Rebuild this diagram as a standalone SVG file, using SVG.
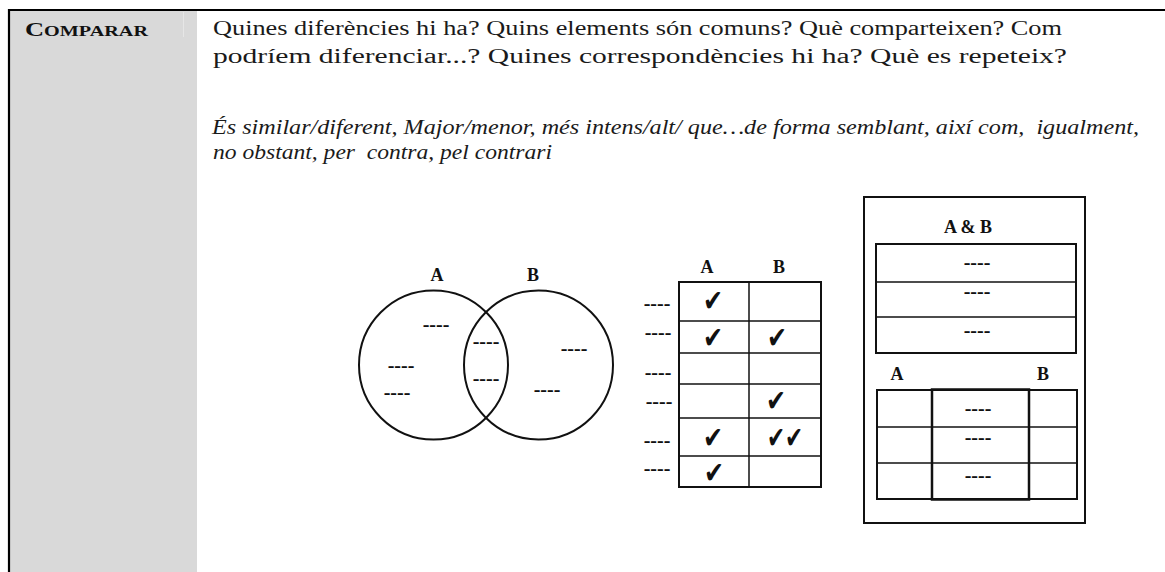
<svg xmlns="http://www.w3.org/2000/svg" width="1165" height="572" viewBox="0 0 1165 572">
<style>
.t{font-family:"Liberation Serif","Times New Roman",serif;font-size:20.5px;fill:#1a1a1a;white-space:pre}
.i{font-style:italic}
.lb{font-family:"Liberation Serif","Times New Roman",serif;font-size:18px;font-weight:bold;fill:#111;text-anchor:middle}
.d{font-family:"Liberation Serif","Times New Roman",serif;font-size:20px;font-weight:bold;fill:#111;text-anchor:middle}
.ck{font-family:"DejaVu Sans",sans-serif;font-size:30px;fill:#111;text-anchor:middle}
.s{fill:none;stroke:#111;stroke-width:2}
.s1{fill:none;stroke:#111;stroke-width:1.5}
</style>
<rect width="1165" height="572" fill="#fff"/>
<g id="header">
<rect x="10" y="11" width="187" height="561" fill="#d9d9d9"/>
<line x1="183.5" y1="12" x2="183.5" y2="37" stroke="#e6e6e6" stroke-width="1"/>
<line x1="8" y1="10" x2="1165" y2="10" stroke="#000" stroke-width="2"/>
<line x1="9" y1="9" x2="9" y2="572" stroke="#000" stroke-width="2.2"/>
<text x="25" y="36" font-family="Liberation Serif, serif" font-weight="bold" fill="#111" textLength="123" lengthAdjust="spacingAndGlyphs"><tspan font-size="19">C</tspan><tspan font-size="14.5">OMPARAR</tspan></text>
</g>
<g id="questions">
<text class="t" x="213" y="35" textLength="849" lengthAdjust="spacingAndGlyphs">Quines diferències hi ha? Quins elements són comuns? Què comparteixen? Com</text>
<text class="t" x="213" y="63" textLength="854" lengthAdjust="spacingAndGlyphs">podríem diferenciar...? Quines correspondències hi ha? Què es repeteix?</text>
<text class="t i" x="212" y="134" textLength="927" lengthAdjust="spacingAndGlyphs">És similar/diferent, Major/menor, més intens/alt/ que…de forma semblant, així com,  igualment,</text>
<text class="t i" x="213" y="159" textLength="339" lengthAdjust="spacingAndGlyphs">no obstant, per  contra, pel contrari</text>
</g>
<g id="venn">
<circle class="s" cx="433.5" cy="365" r="74.5"/>
<circle class="s" cx="538.5" cy="365" r="74.5"/>
<text class="lb" x="437" y="281">A</text>
<text class="lb" x="533" y="281">B</text>
<text class="d" x="436" y="331">----</text>
<text class="d" x="401" y="372">----</text>
<text class="d" x="397" y="399">----</text>
<text class="d" x="486" y="348">----</text>
<text class="d" x="486" y="385">----</text>
<text class="d" x="574" y="355">----</text>
<text class="d" x="547" y="396">----</text>
</g>
<g id="checktable">
<rect class="s" x="679" y="282" width="142" height="205"/>
<line class="s1" x1="749" y1="282" x2="749" y2="487"/>
<line class="s1" x1="679" y1="321" x2="821" y2="321"/>
<line class="s1" x1="679" y1="353" x2="821" y2="353"/>
<line class="s1" x1="679" y1="384" x2="821" y2="384"/>
<line class="s1" x1="679" y1="418" x2="821" y2="418"/>
<line class="s1" x1="679" y1="456" x2="821" y2="456"/>
<text class="lb" x="707" y="273">A</text>
<text class="lb" x="779" y="273">B</text>
<text class="d" x="657" y="310">----</text>
<text class="d" x="658" y="339">----</text>
<text class="d" x="658" y="379">----</text>
<text class="d" x="659" y="408">----</text>
<text class="d" x="657" y="447">----</text>
<text class="d" x="657" y="475">----</text>
<text class="ck" x="713" y="311" textLength="20" lengthAdjust="spacingAndGlyphs">✔</text>
<text class="ck" x="713" y="348" textLength="20" lengthAdjust="spacingAndGlyphs">✔</text>
<text class="ck" x="777" y="348" textLength="20" lengthAdjust="spacingAndGlyphs">✔</text>
<text class="ck" x="776" y="411" textLength="20" lengthAdjust="spacingAndGlyphs">✔</text>
<text class="ck" x="713" y="448" textLength="20" lengthAdjust="spacingAndGlyphs">✔</text>
<text class="ck" x="785" y="448" textLength="36" lengthAdjust="spacingAndGlyphs">✔✔</text>
<text class="ck" x="714" y="483" textLength="20" lengthAdjust="spacingAndGlyphs">✔</text>
</g>
<g id="abtable">
<rect class="s" x="864" y="197" width="221" height="326"/>
<text class="lb" x="968" y="233">A &amp; B</text>
<rect class="s" x="876" y="244" width="200" height="109"/>
<line class="s1" x1="876" y1="282" x2="1076" y2="282"/>
<line class="s1" x1="876" y1="317" x2="1076" y2="317"/>
<text class="d" x="977" y="269">----</text>
<text class="d" x="977" y="298">----</text>
<text class="d" x="977" y="337">----</text>
<text class="lb" x="897" y="380">A</text>
<text class="lb" x="1043" y="380">B</text>
<rect class="s" x="877" y="390" width="200" height="109"/>
<line class="s1" x1="877" y1="427" x2="1077" y2="427"/>
<line class="s1" x1="877" y1="463" x2="1077" y2="463"/>
<rect x="932" y="389.5" width="97" height="110" fill="none" stroke="#111" stroke-width="2.5"/>
<text class="d" x="978" y="415">----</text>
<text class="d" x="978" y="444">----</text>
<text class="d" x="978" y="482">----</text>
</g>
</svg>
